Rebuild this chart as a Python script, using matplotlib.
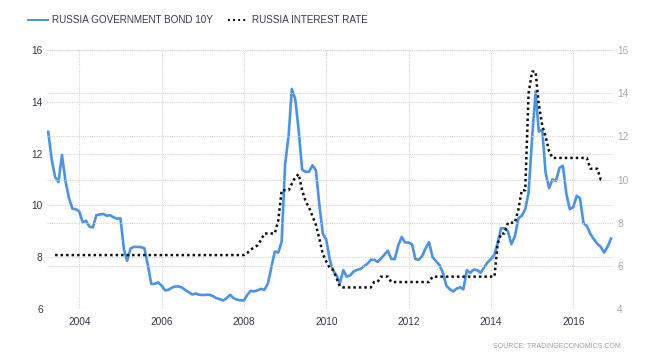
import matplotlib
matplotlib.use("Agg")
import matplotlib.pyplot as plt
import matplotlib.dates as mdates
from matplotlib.lines import Line2D
import pandas as pd

# monthly values, April 2003 .. December 2016
bond_10y = [
    12.84, 11.8, 11.1, 10.9, 11.95, 10.95, 10.3, 9.88, 9.85, 9.77,
    9.35, 9.41, 9.18, 9.15, 9.62, 9.65, 9.67, 9.6, 9.62, 9.54,
    9.49, 9.5, 8.3, 7.86, 8.34, 8.4, 8.4, 8.39, 8.35, 7.7,
    6.97, 6.97, 7.03, 6.9, 6.72, 6.74, 6.82, 6.87, 6.87, 6.83,
    6.73, 6.64, 6.56, 6.6, 6.55, 6.54, 6.55, 6.55, 6.5, 6.42,
    6.38, 6.33, 6.42, 6.55, 6.42, 6.36, 6.34, 6.33, 6.55, 6.7,
    6.68, 6.72, 6.78, 6.74, 6.98, 7.6, 8.22, 8.18, 8.6, 11.6,
    12.7, 14.5, 14.1, 12.9, 11.38, 11.3, 11.3, 11.55, 11.35, 10.0,
    8.92, 8.67, 7.9, 7.5, 7.3, 6.98, 7.5, 7.25, 7.3, 7.45,
    7.51, 7.55, 7.65, 7.75, 7.9, 7.9, 7.82, 7.95, 8.1, 8.25,
    7.93, 7.93, 8.45, 8.78, 8.57, 8.57, 8.5, 7.93, 7.9, 8.05,
    8.35, 8.58, 8.0, 7.85, 7.7, 7.4, 6.9, 6.76, 6.68, 6.78,
    6.84, 6.76, 7.5, 7.4, 7.52, 7.5, 7.4, 7.6, 7.8, 7.93,
    8.1, 8.55, 9.12, 9.12, 9.0, 8.5, 8.8, 9.5, 9.6, 9.85,
    10.5, 12.6, 14.4, 12.85, 12.92, 11.25, 10.67, 11.0, 10.95, 11.45,
    11.53, 10.45, 9.86, 9.93, 10.37, 10.28, 9.32, 9.2, 8.9, 8.7,
    8.52, 8.4, 8.18, 8.41, 8.72,
]

# monthly values, June 2003 .. November 2016
interest_rate = [6.5] * 56 + [
    6.6, 6.75, 6.85, 6.95, 7.2, 7.5, 7.5, 7.5, 7.5, 8.1,
    9.5, 9.5, 9.5, 9.8, 10.1, 10.25, 9.5, 9.0, 8.7, 8.3,
    7.9, 7.25, 6.55, 6.2, 5.9, 5.82, 5.45, 5.05, 5.0, 5.0,
    5.0, 5.0, 5.0, 5.0, 5.0, 5.0, 5.0, 5.25, 5.25, 5.5,
    5.5, 5.5, 5.25, 5.25, 5.25, 5.25, 5.25, 5.25, 5.25, 5.25,
    5.25, 5.25, 5.25, 5.25, 5.5, 5.5, 5.5, 5.5, 5.5, 5.5,
    5.5, 5.5, 5.5, 5.5, 5.5, 5.5, 5.5, 5.5, 5.5, 5.5,
    5.5, 5.5, 5.5, 7.0, 7.5, 7.5, 8.0, 8.0, 8.0, 8.6,
    9.5, 9.5, 14.0, 15.0, 15.0, 13.5, 12.5, 12.0, 11.3, 11.0,
    11.0, 11.0, 11.0, 11.0, 11.0, 11.0, 11.0, 11.0, 11.0, 11.0,
    10.5, 10.5, 10.5, 10.0, 10.0,
]

bond_dates = pd.date_range("2003-04-01", periods=len(bond_10y), freq="MS")
rate_dates = pd.date_range("2003-06-01", periods=len(interest_rate), freq="MS")

left_ticks = [6, 8, 10, 12, 14, 16]
right_ticks = [4, 6, 8, 10, 12, 14, 16]

blue = "#4a93ea"
label_col = "#3b3450"
grid_col = "#d4d4d4"

plt.rcParams["font.family"] = ["Liberation Sans", "DejaVu Sans"]

fig = plt.figure(figsize=(6.6, 3.61), dpi=100)
ax = fig.add_axes([0.071, 0.144, 0.858, 0.7175])
ax2 = ax.twinx()

ax.plot(bond_dates, bond_10y, color=blue, lw=1.9, zorder=3)
ax2.plot(rate_dates, interest_rate, color="#111111", lw=1.8, ls=(0, (1, 1.2)), zorder=3)

ax.set_xlim(pd.Timestamp("2003-03-20"), pd.Timestamp("2016-12-20"))
ax.set_ylim(6, 16)
ax2.set_ylim(4, 16)
ax.set_yticks(left_ticks)
ax2.set_yticks(right_ticks)

ax.xaxis.set_major_locator(mdates.YearLocator(2))
ax.xaxis.set_major_formatter(mdates.DateFormatter("%Y"))

for a in (ax, ax2):
    for s in a.spines.values():
        s.set_visible(False)
    a.grid(axis="y", color=grid_col, ls=(0, (1, 1)), lw=0.8)
ax.grid(axis="x", color=grid_col, ls=(0, (1, 1)), lw=0.8)
ax.set_axisbelow(True)

ax.tick_params(axis="both", length=0, labelsize=7.3, labelcolor=label_col, pad=3)
ax.tick_params(axis="x", pad=6)
ax2.tick_params(axis="y", length=0, labelsize=7.3, labelcolor="#a9a9a9", pad=3)

handles = [
    Line2D([], [], color=blue, lw=1.4),
    Line2D([], [], color="#111111", lw=1.4, ls=(0, (1, 1.6))),
]
fig.legend(handles, ["RUSSIA GOVERNMENT BOND 10Y", "RUSSIA INTEREST RATE"],
           loc="center left", bbox_to_anchor=(0.0424, 0.944), ncol=2,
           frameon=False, fontsize=7.1, labelcolor=label_col,
           borderpad=0, borderaxespad=0,
           handlelength=2.05, handletextpad=0.4, columnspacing=1.5)

fig.text(0.941, 0.04, "SOURCE: TRADINGECONOMICS.COM", ha="right", va="center",
         fontsize=5, color="#a0a0a0")

fig.savefig("out.png", dpi=100, facecolor="white")
